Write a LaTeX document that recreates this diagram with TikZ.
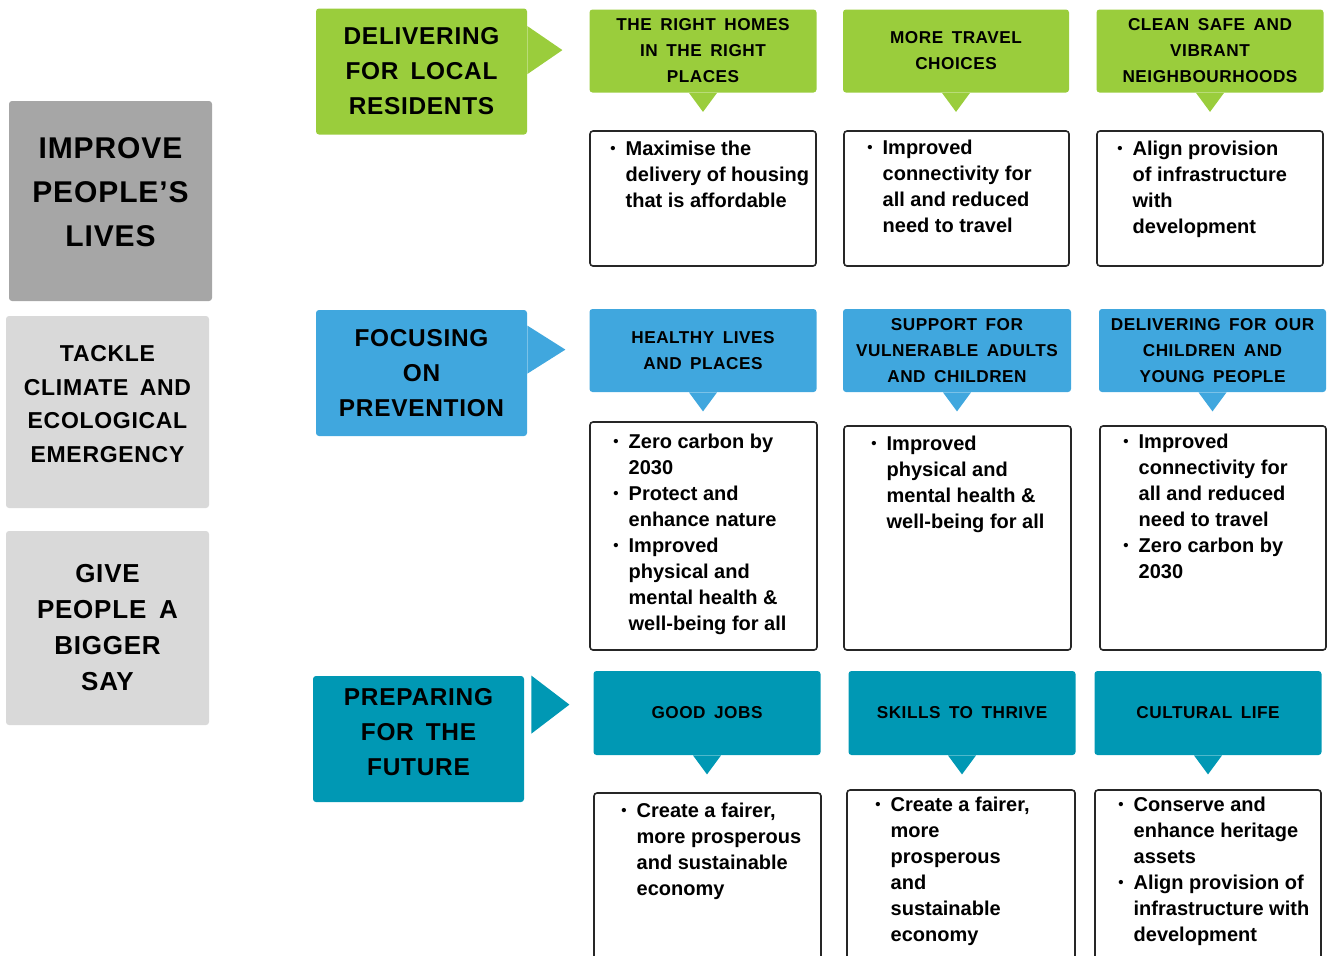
\documentclass[tikz,border=0pt]{standalone}
\usepackage{fontspec}
\setmainfont{Liberation Sans}
\newfontfamily\capsfont{Liberation Sans}[LetterSpace=3,WordSpace=1.6]
\newcommand{\dotmark}{\raisebox{0.7pt}{\fontsize{7.5}{7.5}\selectfont\textbullet}}
\definecolor{leaf}{HTML}{9ACD3C}
\definecolor{sky}{HTML}{40A7DE}
\definecolor{sea}{HTML}{0098B4}
\definecolor{greyd}{HTML}{A6A6A6}
\definecolor{greyl}{HTML}{D9D9D9}

\begin{document}
\begin{tikzpicture}[x=0.5pt,y=-0.5pt,
	pill/.style={rounded corners=1.5pt,inner sep=0pt,align=center},
	aim/.style={pill,minimum width=101.5pt,minimum height=97pt},
	theme/.style={pill,minimum width=105.5pt,minimum height=63pt,font={\capsfont\bfseries\fontsize{12.2}{17.5}\selectfont}},
	head/.style={pill,minimum width=113.5pt,minimum height=41.5pt,font={\capsfont\bfseries\fontsize{8.6}{13}\selectfont}},
	outbox/.style={draw=black!85,line width=0.8pt,rounded corners=1.5pt,minimum width=113pt},
	body/.style={anchor=base west,inner sep=0pt,font={\bfseries\fontsize{10}{13}\selectfont}}]
	\useasboundingbox (0,0) rectangle (1332,955);
	\clip (0,0) rectangle (1332,955);
	\node[aim,fill=greyd,minimum height=100pt] (improve) at (110.5,201) {};
	\node[pill,font={\capsfont\bfseries\fontsize{15}{22}\selectfont}] (improvetxt) at ([yshift=4.5pt]improve.center) {IMPROVE\\PEOPLE’S\\LIVES};
	\node[aim,fill=greyl,minimum height=96pt] (tackle) at (107.5,412) {};
	\node[pill,font={\capsfont\bfseries\fontsize{11.5}{16.75}\selectfont}] (tackletxt) at ([yshift=4pt]tackle.center) {TACKLE\\CLIMATE AND\\ECOLOGICAL\\EMERGENCY};
	\node[aim,fill=greyl,font={\capsfont\bfseries\fontsize{13}{18}\selectfont}] (give) at (107.5,628) {GIVE\\PEOPLE A\\BIGGER\\SAY};

	\node[theme,fill=leaf] (local) at (421.5,71.5) {DELIVERING\\FOR LOCAL\\RESIDENTS};
	\fill[leaf] ([yshift=-9pt]local.north east) -- ++(17.5pt,-12pt) -- ++(-17.5pt,-12pt) -- cycle;
	\node[theme,fill=sky] (prevent) at (421.5,373) {FOCUSING\\ON\\PREVENTION};
	\fill[sky] ([yshift=-8pt]prevent.north east) -- ++(19pt,-12pt) -- ++(-19pt,-12pt) -- cycle;
	\node[theme,fill=sea] (future) at (418.5,739) {};
	\node[pill,font={\capsfont\bfseries\fontsize{12.2}{17.5}\selectfont}] (futuretxt) at ([yshift=3.5pt]future.center) {PREPARING\\FOR THE\\FUTURE};
	\fill[sea] ([xshift=3.5pt]future.north east) -- ++(19pt,-14.5pt) -- ++(-19pt,-14.5pt) -- cycle;

	\node[head,fill=leaf] (homes) at (703,51) {THE RIGHT HOMES\\IN THE RIGHT\\PLACES};
	\node[head,fill=leaf,minimum width=113pt] (travel) at (956,51) {MORE TRAVEL\\CHOICES};
	\node[head,fill=leaf] (clean) at (1210,51) {CLEAN SAFE AND\\VIBRANT\\NEIGHBOURHOODS};
	\node[head,fill=sky] (healthy) at (703,350.5) {HEALTHY LIVES\\AND PLACES};
	\node[head,fill=sky,minimum width=114pt] (support) at (957,350.5) {SUPPORT FOR\\VULNERABLE ADULTS\\AND CHILDREN};
	\node[head,fill=sky] (young) at (1212.5,350.5) {DELIVERING FOR OUR\\CHILDREN AND\\YOUNG PEOPLE};
	\node[head,fill=sea,minimum height=42pt] (jobs) at (707,713) {GOOD JOBS};
	\node[head,fill=sea,minimum height=42pt] (skills) at (962,713) {SKILLS TO THRIVE};
	\node[head,fill=sea,minimum height=42pt] (culture) at (1208,713) {CULTURAL LIFE};
	\foreach \h/\c in {homes/leaf,travel/leaf,clean/leaf,healthy/sky,support/sky,young/sky,jobs/sea,skills/sea,culture/sea}
		\fill[\c] ([xshift=-7pt]\h.south) -- ([xshift=7pt]\h.south) -- ([yshift=-9.5pt]\h.south) -- cycle;

	\node[outbox,minimum height=67.5pt] (o11) at (703,198.5) {};
	\node[outbox,minimum width=112.5pt,minimum height=67.5pt] (o12) at (956.5,198.5) {};
	\node[outbox,minimum height=67.5pt] (o13) at (1210,198.5) {};
	\node[outbox,minimum width=113.5pt,minimum height=114pt] (o21) at (703.5,536) {};
	\node[outbox,minimum width=113.5pt,minimum height=112pt] (o22) at (957.5,538) {};
	\node[outbox,minimum height=112pt] (o23) at (1213,538) {};
	\node[outbox,minimum width=113.5pt,minimum height=100pt] (o31) at (707.5,893) {};
	\node[outbox,minimum width=114pt,minimum height=100pt] (o32) at (961,890) {};
	\node[outbox,minimum height=100pt] (o33) at (1208,890) {};

	\node[body] (b11) at (610,155) {\begin{tabular}[t]{@{}l@{\hspace{5pt}}l@{}}\dotmark & Maximise the\\ & delivery of housing\\ & that is affordable\end{tabular}};
	\node[body] (b12) at (867,154) {\begin{tabular}[t]{@{}l@{\hspace{5pt}}l@{}}\dotmark & Improved\\ & connectivity for\\ & all and reduced\\ & need to travel\end{tabular}};
	\node[body] (b13) at (1117,155) {\begin{tabular}[t]{@{}l@{\hspace{5pt}}l@{}}\dotmark & Align provision\\ & of infrastructure\\ & with\\ & development\end{tabular}};
	\node[body] (b21) at (613,448) {\begin{tabular}[t]{@{}l@{\hspace{5pt}}l@{}}\dotmark & Zero carbon by\\ & 2030\\ \dotmark & Protect and\\ & enhance nature\\ \dotmark & Improved\\ & physical and\\ & mental health \&\\ & well-being for all\end{tabular}};
	\node[body] (b22) at (871,450) {\begin{tabular}[t]{@{}l@{\hspace{5pt}}l@{}}\dotmark & Improved\\ & physical and\\ & mental health \&\\ & well-being for all\end{tabular}};
	\node[body] (b23) at (1123,448) {\begin{tabular}[t]{@{}l@{\hspace{5pt}}l@{}}\dotmark & Improved\\ & connectivity for\\ & all and reduced\\ & need to travel\\ \dotmark & Zero carbon by\\ & 2030\end{tabular}};
	\node[body] (b31) at (621,817) {\begin{tabular}[t]{@{}l@{\hspace{5pt}}l@{}}\dotmark & Create a fairer,\\ & more prosperous\\ & and sustainable\\ & economy\end{tabular}};
	\node[body] (b32) at (875,811) {\begin{tabular}[t]{@{}l@{\hspace{5pt}}l@{}}\dotmark & Create a fairer,\\ & more\\ & prosperous\\ & and\\ & sustainable\\ & economy\end{tabular}};
	\node[body] (b33) at (1118,811) {\begin{tabular}[t]{@{}l@{\hspace{5pt}}l@{}}\dotmark & Conserve and\\ & enhance heritage\\ & assets\\ \dotmark & Align provision of\\ & infrastructure with\\ & development\end{tabular}};
\end{tikzpicture}
\end{document}
